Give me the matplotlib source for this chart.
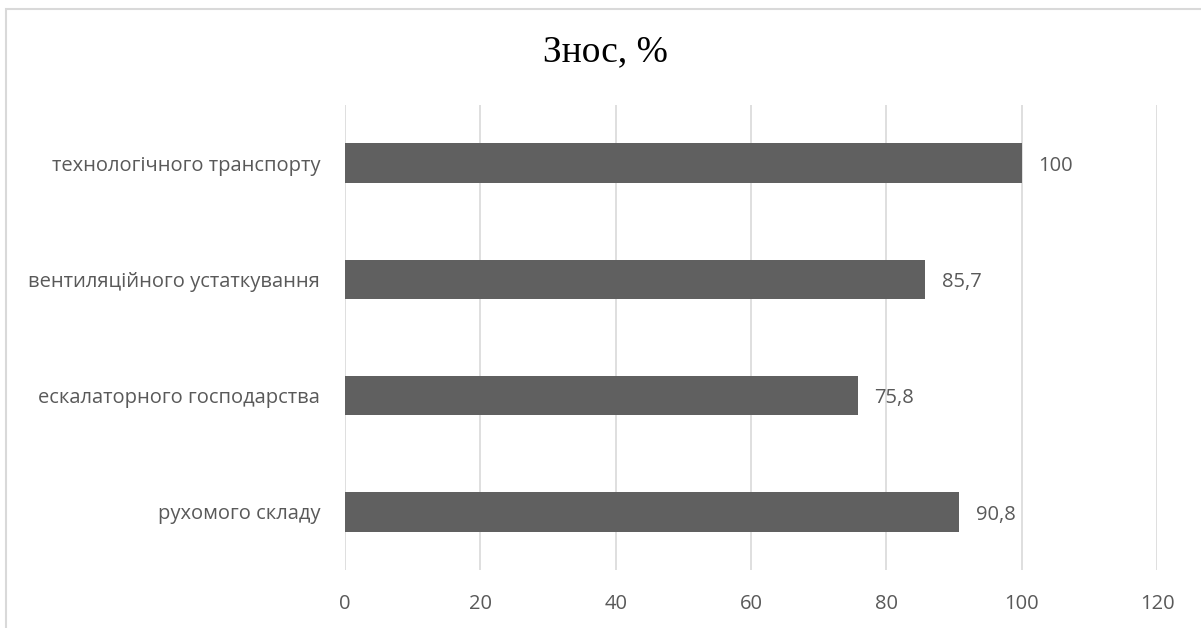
import matplotlib.pyplot as plt
from matplotlib.patches import Rectangle

# Дані
categories = ['рухомого складу', 'ескалаторного господарства',
              'вентиляційного устаткування', 'технологічного транспорту']
values = [90.8, 75.8, 85.7, 100]
value_labels = ['90,8', '75,8', '85,7', '100']
x_ticks = [0, 20, 40, 60, 80, 100, 120]

text_color = '#595959'
bar_color = '#606060'
grid_color = '#d9d9d9'

fig = plt.figure(figsize=(12.01, 6.28), dpi=100)
ax = fig.add_axes([0.2873, 0.0924, 0.6761, 0.7404])

ax.barh(range(len(categories)), values, height=0.34, color=bar_color, zorder=3)

for i, (v, lab) in enumerate(zip(values, value_labels)):
    ax.annotate(lab, (v, i), xytext=(12, -2), textcoords='offset points',
                va='center', ha='left', fontsize=14.5, color=text_color,
                family='Open Sans')

ax.set_xlim(0, 120)
ax.set_ylim(-0.5, len(categories) - 0.5)
ax.set_xticks(x_ticks)
ax.set_xticklabels([str(t) for t in x_ticks], family='Open Sans', fontsize=14.5, color=text_color)
ax.set_yticks(range(len(categories)))
ax.set_yticklabels(categories, family='Open Sans', fontsize=14.5, color=text_color)
ax.tick_params(axis='both', length=0)
ax.tick_params(axis='x', pad=17)
ax.tick_params(axis='y', pad=18)

ax.grid(axis='x', color=grid_color, linewidth=1.2, zorder=0)
ax.grid(axis='y', visible=False)
for s in ax.spines.values():
    s.set_visible(False)

fig.text(0.504, 0.917, 'Знос, %', ha='center', va='center', fontsize=27,
         family='Liberation Serif', color='black')

# рамка діаграми
fig.patches.append(Rectangle((6 / 1201, -0.05), 1.1, 0.05 + (628 - 8.5) / 628,
                             transform=fig.transFigure, fill=False,
                             edgecolor=grid_color, linewidth=1.5))

fig.savefig('out.png', dpi=100)
